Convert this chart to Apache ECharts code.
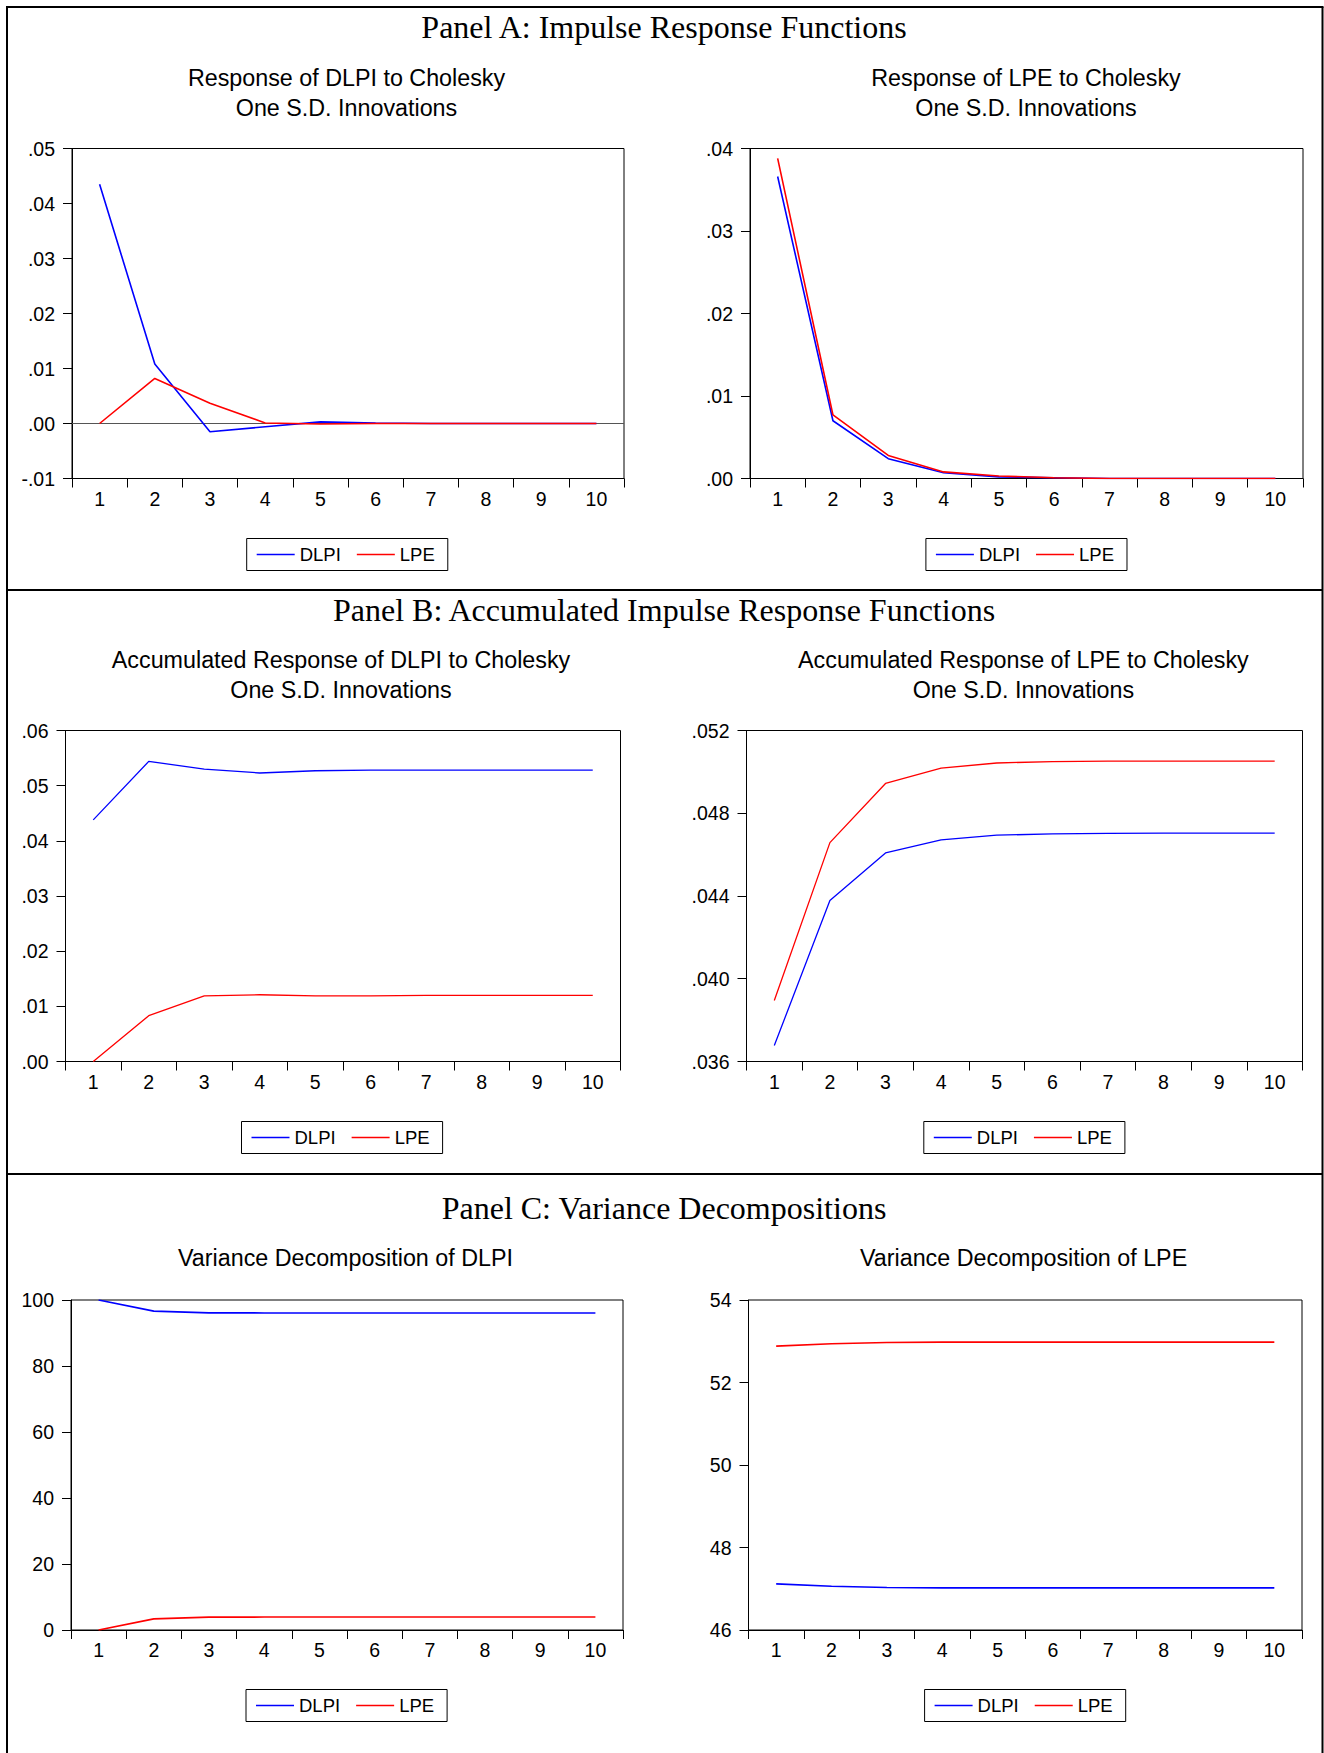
<!DOCTYPE html>
<html>
<head>
<meta charset="utf-8">
<title>VAR impulse responses and variance decompositions</title>
<script src="https://cdn.jsdelivr.net/npm/echarts@6/dist/echarts.min.js"></script>
<style>
  html, body { margin: 0; padding: 0; background: #ffffff; }
  #chart { width: 1324px; height: 1753px; }
</style>
</head>
<body>
<div id="chart"></div>
<script>
// ---- data ----
const periods = ['1', '2', '3', '4', '5', '6', '7', '8', '9', '10'];
const seriesNames = ['DLPI', 'LPE'];

// Panel A: impulse responses (response variable / shock)
const irfDlpiToDlpi = [0.0435, 0.0108, -0.0015, -0.0006, 0.0003, 0.0001, 0.0000, 0.0000, 0.0000, 0.0000];
const irfDlpiToLpe  = [0.0000, 0.0082, 0.0037, 0.0001, -0.0001, 0.0000, 0.0000, 0.0000, 0.0000, 0.0000];
const irfLpeToDlpi  = [0.0366, 0.0070, 0.0024, 0.0007, 0.0002, 0.0001, 0.0000, 0.0000, 0.0000, 0.0000];
const irfLpeToLpe   = [0.0388, 0.0077, 0.0028, 0.0008, 0.0003, 0.0001, 0.0000, 0.0000, 0.0000, 0.0000];

// Panel B: accumulated impulse responses
const accDlpiToDlpi = [0.0438, 0.0544, 0.0530, 0.0523, 0.0527, 0.0528, 0.0528, 0.0528, 0.0528, 0.0528];
const accDlpiToLpe  = [0.0000, 0.0083, 0.0119, 0.0121, 0.0119, 0.0119, 0.0120, 0.0120, 0.0120, 0.0120];
const accLpeToDlpi  = [0.03677, 0.04378, 0.04608, 0.04671, 0.04694, 0.04700, 0.04703, 0.04704, 0.04704, 0.04704];
const accLpeToLpe   = [0.03895, 0.04658, 0.04944, 0.05018, 0.05043, 0.05050, 0.05052, 0.05052, 0.05052, 0.05052];

// Panel C: variance decompositions (percent)
const vdDlpiByDlpi = [100.00, 96.65, 96.12, 96.06, 96.06, 96.06, 96.06, 96.06, 96.06, 96.06];
const vdDlpiByLpe  = [0.00, 3.35, 3.88, 3.94, 3.94, 3.94, 3.94, 3.94, 3.94, 3.94];
const vdLpeByDlpi  = [47.12, 47.06, 47.03, 47.02, 47.02, 47.02, 47.02, 47.02, 47.02, 47.02];
const vdLpeByLpe   = [52.88, 52.94, 52.97, 52.98, 52.98, 52.98, 52.98, 52.98, 52.98, 52.98];

const panelTitles = [
  'Panel A: Impulse Response Functions',
  'Panel B: Accumulated Impulse Response Functions',
  'Panel C: Variance Decompositions'
];
const chartTitles = [
  ['Response of DLPI to Cholesky', 'One S.D. Innovations'],
  ['Response of LPE to Cholesky', 'One S.D. Innovations'],
  ['Accumulated Response of DLPI to Cholesky', 'One S.D. Innovations'],
  ['Accumulated Response of LPE to Cholesky', 'One S.D. Innovations'],
  ['Variance Decomposition of DLPI'],
  ['Variance Decomposition of LPE']
];
const chartSeries = [
  [irfDlpiToDlpi, irfDlpiToLpe],
  [irfLpeToDlpi, irfLpeToLpe],
  [accDlpiToDlpi, accDlpiToLpe],
  [accLpeToDlpi, accLpeToLpe],
  [vdDlpiByDlpi, vdDlpiByLpe],
  [vdLpeByDlpi, vdLpeByLpe]
];
const yScales = [
  { min: -0.01, max: 0.05, interval: 0.01, digits: 2 },
  { min: 0, max: 0.04, interval: 0.01, digits: 2 },
  { min: 0, max: 0.06, interval: 0.01, digits: 2 },
  { min: 0.036, max: 0.052, interval: 0.004, digits: 3 },
  { min: 0, max: 100, interval: 20, digits: 0 },
  { min: 46, max: 54, interval: 2, digits: 0 }
];

// ---- layout ----
const SANS = '"Liberation Sans", Arial, sans-serif';
const SERIF = '"Liberation Serif", "Times New Roman", serif';
const BLUE = '#0000ff';
const RED = '#ff0000';

const panelTitleY = [27, 610, 1208];
const frameTop = 7, frameLeft = 7, frameRight = 1322.5, frameBottom = 1753;
const dividers = [590, 1174];

const layouts = [
  { grid: { left: 72, top: 148.5, width: 552, height: 330 }, cx: 346.5, ty: [77.5, 107.5], legend: { left: 246.7, top: 538.5 }, lw: 1.6 },
  { grid: { left: 750, top: 148.5, width: 553, height: 330 }, cx: 1026, ty: [77.5, 107.5], legend: { left: 925.9, top: 538.5 }, lw: 1.6 },
  { grid: { left: 65.5, top: 730.5, width: 555, height: 331 }, cx: 341, ty: [659.5, 689.5], legend: { left: 241.5, top: 1121.5 }, lw: 1.3 },
  { grid: { left: 746.5, top: 730.5, width: 556, height: 331 }, cx: 1023.4, ty: [659.5, 689.5], legend: { left: 923.8, top: 1121.5 }, lw: 1.3 },
  { grid: { left: 71, top: 1300, width: 552, height: 330 }, cx: 345.5, ty: [1257.5], legend: { left: 246, top: 1689.5 }, lw: 1.7 },
  { grid: { left: 748.5, top: 1300, width: 553.5, height: 330 }, cx: 1023.6, ty: [1257.5], legend: { left: 924.6, top: 1689.5 }, lw: 1.7 }
];

function tickText(v, digits) {
  if (digits === 0) return String(Math.round(v));
  const s = Math.abs(v).toFixed(digits).replace(/^0/, '');
  return (v < -1e-12 ? '-' : '') + s;
}

const grids = [], xAxes = [], yAxes = [], series = [], legends = [], graphics = [];

// outer frame and panel dividers
const frameLine = { stroke: '#000', lineWidth: 2 };
graphics.push({ type: 'line', shape: { x1: frameLeft - 1, y1: frameTop, x2: frameRight + 1, y2: frameTop }, style: frameLine });
graphics.push({ type: 'line', shape: { x1: frameLeft, y1: frameTop, x2: frameLeft, y2: frameBottom }, style: frameLine });
graphics.push({ type: 'line', shape: { x1: frameRight, y1: frameTop, x2: frameRight, y2: frameBottom }, style: frameLine });
dividers.forEach(y => graphics.push({ type: 'line', shape: { x1: frameLeft, y1: y, x2: frameRight, y2: y }, style: frameLine }));

panelTitles.forEach((t, i) => graphics.push({
  type: 'text', x: 664, y: panelTitleY[i],
  style: { text: t, font: '32px ' + SERIF, fill: '#000', align: 'center', verticalAlign: 'middle' }
}));

layouts.forEach((L, i) => {
  chartTitles[i].forEach((line, k) => graphics.push({
    type: 'text', x: L.cx, y: L.ty[k],
    style: { text: line, font: '23.3px ' + SANS, fill: '#000', align: 'center', verticalAlign: 'middle' }
  }));

  grids.push(Object.assign({ show: true, borderColor: '#000', borderWidth: 1, backgroundColor: '#fff', containLabel: false }, L.grid));

  xAxes.push({
    type: 'category', gridIndex: i, data: periods, boundaryGap: true,
    axisLine: { show: true, onZero: false, lineStyle: { color: '#000', width: 1 } },
    axisTick: { show: true, inside: false, length: 9, interval: 0, alignWithLabel: false, lineStyle: { color: '#000', width: 1 } },
    axisLabel: { show: true, interval: 0, margin: 10, color: '#000', fontFamily: SANS, fontSize: 19.5 },
    splitLine: { show: false }
  });

  const ys = yScales[i];
  yAxes.push({
    type: 'value', gridIndex: i, min: ys.min, max: ys.max, interval: ys.interval,
    axisLine: { show: true, onZero: false, lineStyle: { color: '#000', width: 1 } },
    axisTick: { show: true, inside: false, length: 9, lineStyle: { color: '#000', width: 1 } },
    axisLabel: { show: true, margin: 17, color: '#000', fontFamily: SANS, fontSize: 19.5,
                 formatter: v => tickText(v, ys.digits) },
    splitLine: { show: false }
  });

  chartSeries[i].forEach((vals, k) => {
    const col = k === 0 ? BLUE : RED;
    const s = {
      type: 'line', name: seriesNames[k], xAxisIndex: i, yAxisIndex: i, data: vals,
      color: col, symbol: 'none', showSymbol: false, smooth: false,
      lineStyle: { color: col, width: L.lw }, itemStyle: { color: col },
      emphasis: { disabled: true }, z: 3
    };
    if (i === 0 && k === 0) {
      s.markLine = {
        silent: true, symbol: 'none', label: { show: false }, z: 1,
        lineStyle: { color: '#555', width: 1, type: 'solid' },
        data: [{ yAxis: 0 }]
      };
    }
    series.push(s);
  });

  legends.push({
    left: L.legend.left, top: L.legend.top, orient: 'horizontal',
    data: seriesNames, selectedMode: false,
    icon: 'rect', itemWidth: 38, itemHeight: 1.5, itemGap: 16,
    padding: [6, 13, 6, 10],
    borderColor: '#000', borderWidth: 1, backgroundColor: '#fff',
    textStyle: { color: '#000', fontFamily: SANS, fontSize: 18.5, lineHeight: 20 }
  });
});

const chart = echarts.init(document.getElementById('chart'), null, { renderer: 'svg', width: 1324, height: 1753 });
chart.setOption({
  animation: false,
  backgroundColor: '#ffffff',
  grid: grids,
  xAxis: xAxes,
  yAxis: yAxes,
  legend: legends,
  series: series,
  graphic: graphics
});
</script>
</body>
</html>
